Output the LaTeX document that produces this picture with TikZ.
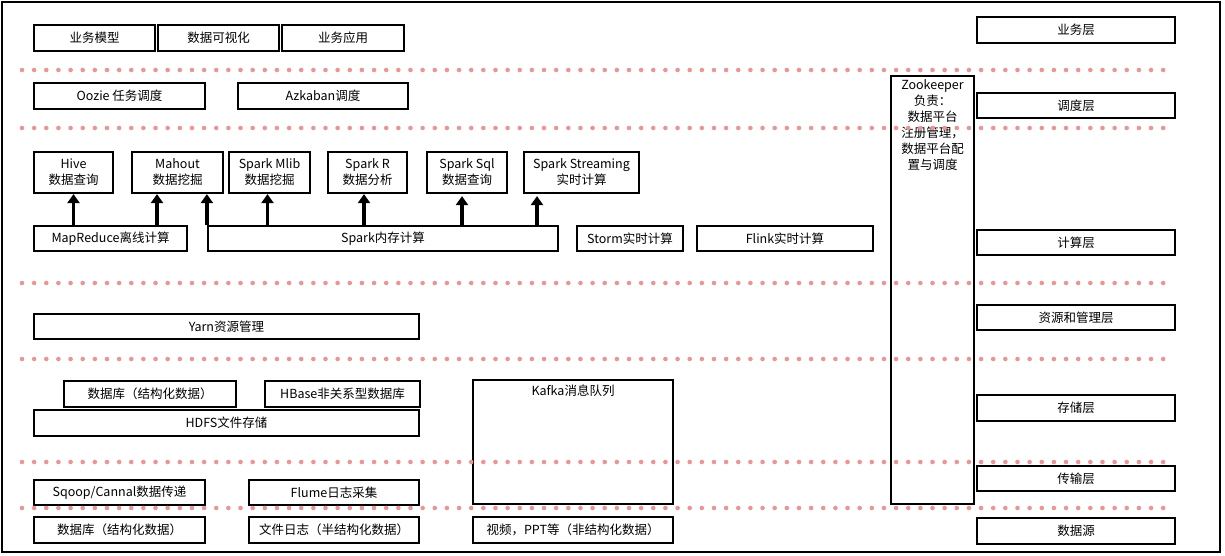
\documentclass[tikz,border=0pt]{standalone}
\usepackage{fontspec}
\setmainfont{Noto Sans CJK SC}
\usetikzlibrary{arrows.meta}
\definecolor{dotc}{RGB}{232,150,150}
\newcommand\bx[6]{\node[box, minimum width={#4-#2}, minimum height={#5-#3}] (#1) at ({(#2+#4)/2},{(#3+#5)/2}) {#6};}
\begin{document}
\begin{tikzpicture}[x=1pt,y=-1pt,
  box/.style={draw=black, line width=2.2pt, fill=white, inner sep=0pt, align=center,
    font=\fontsize{12.5}{16}\selectfont},
  tallbox/.style={box, fill=none},
  arr/.style={line width=3.6pt, -{Triangle[length=9pt,width=12pt]}},
  txt/.style={font=\fontsize{12.5}{16}\selectfont, align=center, inner sep=0pt}]
\useasboundingbox (0,0) rectangle (1225,556);
\draw[line width=2.2pt] (2,2) rectangle (1220,552);

% business layer
\bx{bm}{34}{25}{155}{51}{业务模型}
\bx{dv}{158}{25}{279}{51}{数据可视化}
\bx{ba}{282}{25}{404}{51}{业务应用}
\bx{L1}{977}{17}{1175}{43}{业务层}

% scheduling
\bx{oozie}{34}{83}{205}{109}{Oozie 任务调度}
\bx{azk}{238}{83}{408}{109}{Azkaban调度}
\bx{L2}{977}{93}{1175}{118}{调度层}

% compute
\bx{hive}{34}{152}{113}{193}{Hive\\数据查询}
\bx{mahout}{132}{152}{223}{193}{Mahout\\数据挖掘}
\bx{mlib}{229}{152}{310}{193}{Spark Mlib\\数据挖掘}
\bx{sr}{328}{152}{407}{193}{Spark R\\数据分析}
\bx{sql}{427}{152}{507}{193}{Spark Sql\\数据查询}
\bx{sst}{524}{152}{639}{193}{Spark Streaming\\实时计算}
\bx{mr}{34}{226}{187}{251}{MapReduce离线计算}
\bx{spark}{208}{226}{558}{251}{Spark内存计算}
\bx{storm}{577}{226}{683}{251}{Storm实时计算}
\bx{flink}{697}{226}{873}{251}{Flink实时计算}
\bx{L3}{977}{230}{1175}{255}{计算层}

\draw[arr] (hive.south |- mr.north) -- (hive.south);
\draw[arr] ([xshift=-20.5]mahout.south |- mr.north) -- ([xshift=-20.5]mahout.south);
\draw[arr] (spark.north west) -- (spark.north west |- mahout.south);
\draw[arr] ([xshift=-2]mlib.south |- spark.north) -- ([xshift=-2]mlib.south);
\draw[arr] ([xshift=-3.5]sr.south |- spark.north) -- ([xshift=-3.5]sr.south);
\draw[arr, shorten >=2pt] ([xshift=-5]sql.south |- spark.north) -- ([xshift=-5]sql.south);
\draw[arr, shorten >=2pt] ([xshift=-44.5]sst.south |- spark.north) -- ([xshift=-44.5]sst.south);

% resource
\bx{yarn}{34}{314}{419}{339}{Yarn资源管理}
\bx{L4}{977}{305}{1175}{330}{资源和管理层}

% storage
\bx{db1}{64}{381}{236}{407}{数据库（结构化数据）}
\bx{hbase}{265}{381}{420}{407}{HBase非关系型数据库}
\bx{hdfs}{34}{410}{419}{436}{HDFS文件存储}
\node[tallbox, minimum width=200, minimum height=124] (kafka) at (573,442) {};
\node[txt, anchor=north] (kafkat) at ([yshift=-6]kafka.north) {Kafka消息队列};
\bx{L5}{977}{395}{1175}{421}{存储层}

% transport
\bx{sqoop}{34}{480}{205}{505}{Sqoop/Cannal数据传递}
\bx{flume}{249}{480}{419}{505}{Flume日志采集}
\bx{L6}{977}{466}{1175}{491}{传输层}

% sources
\bx{src1}{34}{517}{205}{543}{数据库（结构化数据）}
\bx{src2}{249}{517}{419}{543}{文件日志（半结构化数据）}
\bx{src3}{473}{517}{673}{543}{视频，PPT等（非结构化数据）}
\bx{L7}{977}{518}{1175}{544}{数据源}

% zookeeper
\node[tallbox, minimum width=83, minimum height=428] (zk) at (932.5,290) {};
\node[txt, anchor=north, text width=83] (zkt) at ([yshift=-4]zk.north) {Zookeeper\\负责：\\数据平台\\注册管理，\\数据平台配\\置与调度};

% dotted separators
\foreach \yy in {70,128,283,359,462,508}
  \foreach \i in {0,...,94}
    \fill[dotc] ({22+\i*12.14},\yy) circle (2.3);
\end{tikzpicture}
\end{document}
